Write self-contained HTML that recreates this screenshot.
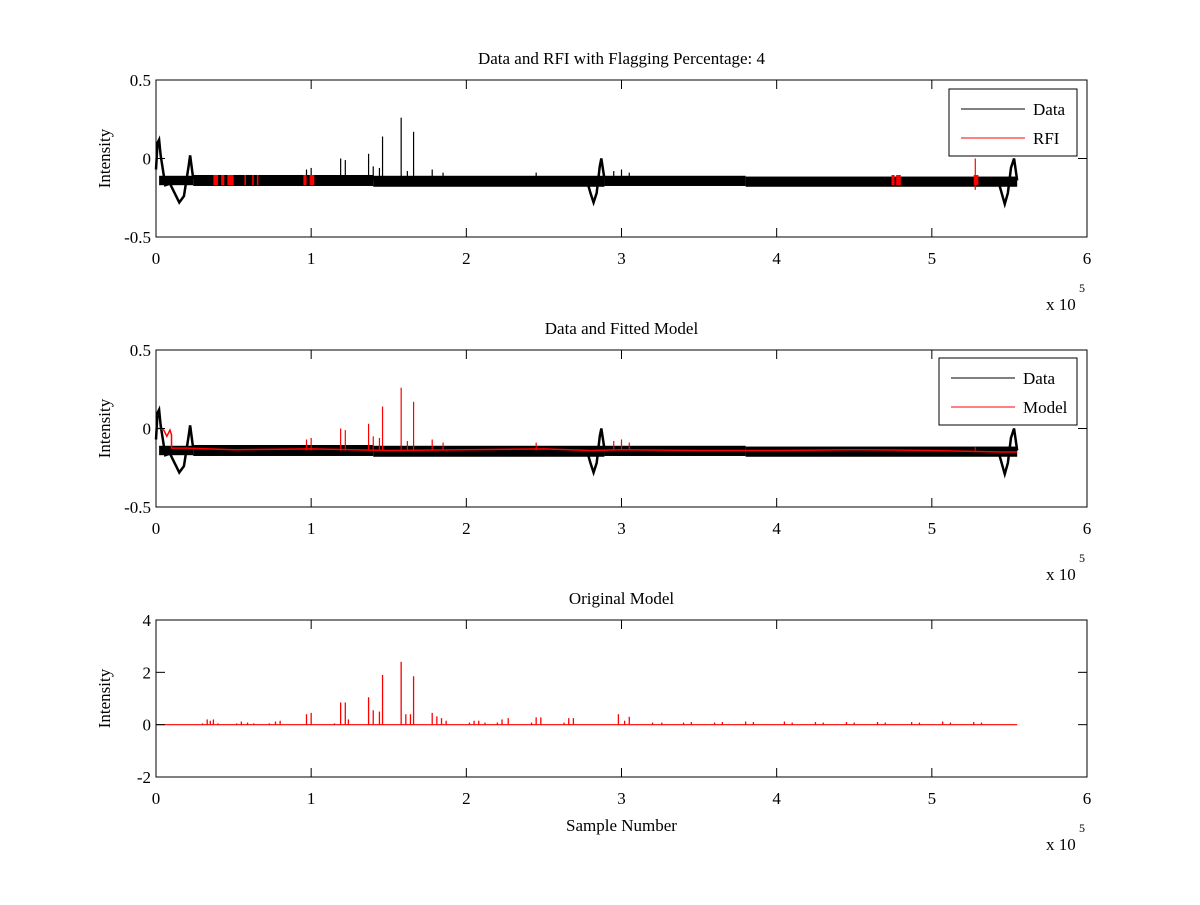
<!DOCTYPE html>
<html><head><meta charset="utf-8"><style>
body{margin:0;background:#fff;width:1200px;height:900px;overflow:hidden}
svg text{font-family:"Liberation Serif",serif;font-size:17px;fill:#000}
</style></head><body>
<svg id="fig" width="1200" height="900" viewBox="0 0 1200 900" xmlns="http://www.w3.org/2000/svg"></svg>
<script>
// ---- data (x in units of 1e5 samples) ----
const xTicks=[0,1,2,3,4,5,6];
const yTicks12=[-0.5,0,0.5];
const yTicks3=[-2,0,2,4];
const waveX=[0,0.01,0.02,0.03,0.06,0.09,0.12,0.15,0.18,0.21,0.22,0.24];
const waveY=[-0.07,0.10,0.12,0.02,-0.17,-0.16,-0.22,-0.28,-0.24,-0.05,0.02,-0.13];
const wave2X=[2.78,2.80,2.82,2.84,2.86,2.87,2.89];
const wave2Y=[-0.15,-0.22,-0.28,-0.22,-0.05,0.0,-0.13];
const wave3X=[5.43,5.45,5.47,5.49,5.51,5.53,5.55];
const wave3Y=[-0.15,-0.22,-0.29,-0.22,-0.06,0.0,-0.14];
const bandStart=[0.02,0.24,1.4,2.89,3.8,5.55];
const bandLow=[-0.17,-0.175,-0.18,-0.175,-0.18];
const bandHigh=[-0.11,-0.105,-0.11,-0.11,-0.115];
const spikeX=[0.97,1.00,1.19,1.22,1.37,1.40,1.44,1.46,1.58,1.62,1.66,1.78,1.85,2.45,2.95,3.0,3.05,5.28];
const spikeY=[-0.07,-0.06,0.0,-0.01,0.03,-0.05,-0.06,0.14,0.26,-0.08,0.17,-0.07,-0.09,-0.09,-0.08,-0.07,-0.09,-0.12];
const rfiStart=[0.37,0.42,0.46,0.57,0.62,0.65,0.95,0.99,4.74,4.77,5.27];
const rfiEnd=[0.40,0.44,0.50,0.58,0.63,0.66,0.97,1.02,4.76,4.80,5.30];
const modX=[0.30,0.33,0.35,0.37,0.40,0.52,0.55,0.59,0.63,0.73,0.77,0.80,0.97,1.00,1.15,1.19,1.22,1.24,1.37,1.40,1.44,1.46,1.58,1.61,1.64,1.66,1.78,1.81,1.84,1.87,2.02,2.05,2.08,2.12,2.20,2.23,2.27,2.42,2.45,2.48,2.63,2.66,2.69,2.98,3.02,3.05,3.20,3.26,3.40,3.45,3.60,3.65,3.80,3.85,4.05,4.10,4.25,4.30,4.45,4.50,4.65,4.70,4.87,4.92,5.07,5.12,5.27,5.32];
const modY=[0.05,0.20,0.15,0.20,0.05,0.05,0.12,0.08,0.05,0.05,0.12,0.15,0.40,0.45,0.05,0.85,0.85,0.20,1.05,0.55,0.50,1.90,2.40,0.40,0.40,1.85,0.45,0.32,0.25,0.15,0.08,0.15,0.15,0.08,0.08,0.20,0.25,0.08,0.28,0.28,0.08,0.25,0.25,0.40,0.15,0.30,0.08,0.08,0.08,0.10,0.08,0.10,0.12,0.10,0.12,0.08,0.10,0.08,0.10,0.08,0.10,0.08,0.10,0.08,0.12,0.08,0.10,0.08];
const mLineX=[0,0.03,0.05,0.07,0.09,0.10,0.10,0.2,0.5,1.0,1.5,2.0,2.5,2.8,3.0,3.5,4.0,4.5,5.0,5.45,5.55];
const mLineY=[0,0,-0.01,-0.05,-0.01,-0.04,-0.125,-0.125,-0.135,-0.13,-0.14,-0.135,-0.13,-0.14,-0.135,-0.14,-0.14,-0.135,-0.14,-0.15,-0.15];

const svg=document.getElementById('fig');
const NS='http://www.w3.org/2000/svg';
function mk(tag,attrs,parent){const e=document.createElementNS(NS,tag);for(const k in attrs)e.setAttribute(k,attrs[k]);(parent||svg).appendChild(e);return e;}
const X0=156,X1=1087;
const sx=v=>X0+(v/6)*(X1-X0);
function makeAxis(top,bot,ymin,ymax){return v=>bot-(v-ymin)/(ymax-ymin)*(bot-top);}

function frame(g,top,bot,yt,sy,title,name){
  mk('rect',{x:X0,y:top,width:X1-X0,height:bot-top,fill:'none',stroke:'#000','stroke-width':1},g);
  xTicks.forEach(t=>{const x=sx(t);
    mk('line',{x1:x,y1:bot,x2:x,y2:bot-9,stroke:'#000'},g);
    mk('line',{x1:x,y1:top,x2:x,y2:top+9,stroke:'#000'},g);
    const tx=mk('text',{x:x,y:bot+27,'text-anchor':'middle'},g);tx.textContent=t;
    
    
  });
  yt.forEach(t=>{const y=sy(t);
    mk('line',{x1:X0,y1:y,x2:X0+9,y2:y,stroke:'#000'},g);
    mk('line',{x1:X1,y1:y,x2:X1-9,y2:y,stroke:'#000'},g);
    const tx=mk('text',{x:X0-5,y:y+6,'text-anchor':'end'},g);tx.textContent=t;
    
    
  });
  const tt=mk('text',{x:(X0+X1)/2,y:top-16,'text-anchor':'middle'},g);tt.textContent=title;
  
  
  const yl=mk('text',{x:0,y:0,'text-anchor':'middle',transform:`translate(${X0-46},${(top+bot)/2}) rotate(-90)`},g);yl.textContent='Intensity';
  
  
  const ex=mk('text',{x:1046,y:bot+73},g);ex.textContent='x 10';
  
  
  const e5=mk('text',{x:1079,y:bot+55,style:'font-size:12px'},g);e5.textContent='5';
}
function polyline(g,xs,ys,sy,color,w){return mk('polyline',{points:xs.map((x,i)=>sx(x)+','+sy(ys[i])).join(' '),fill:'none',stroke:color,'stroke-width':w||1.5},g);}
function dataPanel(g,sy,rfi){
  for(let i=0;i<bandLow.length;i++){
    const r=mk('rect',{x:sx(bandStart[i]),y:sy(bandHigh[i]),width:sx(bandStart[i+1])-sx(bandStart[i]),height:sy(bandLow[i])-sy(bandHigh[i]),fill:'#000'},g);
    
    
  }
  [[waveX,waveY],[wave2X,wave2Y],[wave3X,wave3Y]].forEach(w=>{const p=polyline(g,w[0],w[1],sy,'#000',2.5);
    
    });
  spikeX.forEach((x,i)=>{const l=mk('line',{x1:sx(x),x2:sx(x),y1:sy(-0.14),y2:sy(spikeY[i]),stroke:rfi?'#000':'#f00','stroke-width':1.2},g);
    
    });
  if(rfi){
    rfiStart.forEach((s,i)=>{const r=mk('rect',{x:sx(s),y:sy(-0.105),width:Math.max(1.5,sx(rfiEnd[i])-sx(s)),height:sy(-0.17)-sy(-0.105),fill:'#f00'},g);
      
      });
    mk('line',{x1:sx(5.28),x2:sx(5.28),y1:sy(-0.2),y2:sy(0.0),stroke:'#f00','stroke-width':1.2},g);
  }else{
    const p=polyline(g,mLineX,mLineY,sy,'#f00',1.5);
    
    
  }
}
function legend(g,x,y,w,labels,colors){
  const box=mk('rect',{x:x,y:y,width:w,height:67,fill:'#fff',stroke:'#000'},g);
  
  
  labels.forEach((lb,i)=>{const yy=y+20+i*29;
    mk('line',{x1:x+12,x2:x+76,y1:yy,y2:yy,stroke:colors[i]},g);
    const t=mk('text',{x:x+84,y:yy+6},g);t.textContent=lb;
    
    });
}
let g1=mk('g',{});
const sy1=makeAxis(80,237,-0.5,0.5);
dataPanel(g1,sy1,true);
frame(g1,80,237,yTicks12,sy1,'Data and RFI with Flagging Percentage: 4','rfi-panel');
legend(g1,949,89,128,['Data','RFI'],['#000','#f00']);
let g2=mk('g',{});
const sy2=makeAxis(350,507,-0.5,0.5);
dataPanel(g2,sy2,false);
frame(g2,350,507,yTicks12,sy2,'Data and Fitted Model','model-panel');
legend(g2,939,358,138,['Data','Model'],['#000','#f00']);
let g3=mk('g',{});
const sy3=makeAxis(620,777,-2,4);
mk('line',{x1:sx(0),x2:sx(5.55),y1:sy3(0),y2:sy3(0),stroke:'#f00','stroke-width':1.2},g3);
modX.forEach((x,i)=>{const l=mk('line',{x1:sx(x),x2:sx(x),y1:sy3(0),y2:sy3(modY[i]),stroke:'#f00','stroke-width':1.3},g3);
  
  });
frame(g3,620,777,yTicks3,sy3,'Original Model','original-model-panel');
const xl=mk('text',{x:(X0+X1)/2,y:831,'text-anchor':'middle'},g3);xl.textContent='Sample Number';


</script>
</body></html>
